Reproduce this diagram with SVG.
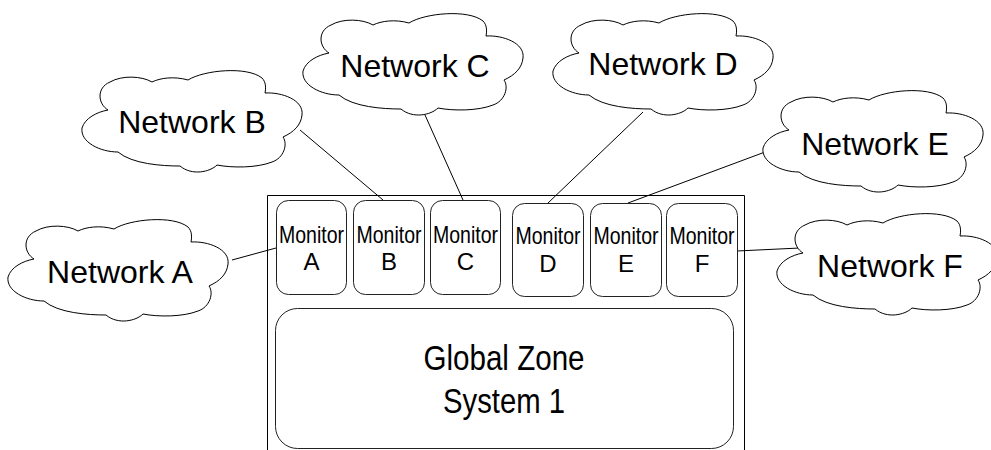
<svg xmlns="http://www.w3.org/2000/svg" width="991" height="450" viewBox="0 0 991 450">
<style>
.ln{stroke:#000;stroke-width:1;fill:none}
.box{stroke:#222;stroke-width:1;fill:#fff}
.cl{stroke:#000;stroke-width:1;fill:#fff}
.nt{font-family:"Liberation Sans",Arial,sans-serif;font-size:32px;text-anchor:middle;fill:#000}
.mt{font-family:"Liberation Sans",Arial,sans-serif;font-size:24px;text-anchor:middle;fill:#000}
.gt{font-family:"Liberation Sans",Arial,sans-serif;font-size:35px;text-anchor:middle;fill:#000}
</style>
<defs>
<path id="cloud" d="M0,58 C3,48 15,42 26,40 C16,34 14,18 28,12 C40,5 60,6 70,12 C78,8 92,6 106,10 C122,0 165,-4 180,8 C184,12 184,18 183,23 C200,22 222,30 220,45 C219,55 212,62 201,67 C206,74 202,88 190,92 C175,98 150,98 135,95 C128,102 110,106 98,96 C80,96 50,94 36,82 C18,82 -2,72 0,58 Z"/>
</defs>
<rect width="991" height="450" fill="#fff"/>
<g id="system">
<path class="ln" d="M267.5,450 V195.5 H744.5 V450"/>
</g>
<g id="connectors">
<line class="ln" x1="232" y1="260" x2="276" y2="248"/>
<line class="ln" x1="300" y1="130" x2="383" y2="200"/>
<line class="ln" x1="425" y1="115" x2="463" y2="200"/>
<line class="ln" x1="643" y1="112" x2="548" y2="203"/>
<line class="ln" x1="765" y1="152" x2="628" y2="203"/>
<line class="ln" x1="737" y1="251" x2="800" y2="248"/>
</g>
<g id="netA"><use href="#cloud" class="cl" transform="translate(8,219)"/><text class="nt" x="120" y="283">Network A</text></g>
<g id="netB"><use href="#cloud" class="cl" transform="translate(82,70)"/><text class="nt" x="192" y="133">Network B</text></g>
<g id="netC"><use href="#cloud" class="cl" transform="translate(303,13)"/><text class="nt" x="415" y="77">Network C</text></g>
<g id="netD"><use href="#cloud" class="cl" transform="translate(553,13)"/><text class="nt" x="663" y="75">Network D</text></g>
<g id="netE"><use href="#cloud" class="cl" transform="translate(763,90)"/><text class="nt" x="875" y="155">Network E</text></g>
<g id="netF"><use href="#cloud" class="cl" transform="translate(777,213)"/><text class="nt" x="890" y="277">Network F</text></g>
<g id="monA"><rect class="box" x="276.5" y="200.5" width="70" height="94" rx="12"/><text class="mt" x="311.5" y="243" textLength="65" lengthAdjust="spacingAndGlyphs">Monitor</text><text class="mt" x="311.5" y="270">A</text></g>
<g id="monB"><rect class="box" x="353.5" y="200.5" width="71" height="94" rx="12"/><text class="mt" x="389" y="243" textLength="65" lengthAdjust="spacingAndGlyphs">Monitor</text><text class="mt" x="389" y="270">B</text></g>
<g id="monC"><rect class="box" x="430.5" y="200.5" width="70" height="94" rx="12"/><text class="mt" x="465.5" y="243" textLength="65" lengthAdjust="spacingAndGlyphs">Monitor</text><text class="mt" x="465.5" y="270">C</text></g>
<g id="monD"><rect class="box" x="512.5" y="203.5" width="71" height="93" rx="12"/><text class="mt" x="548" y="244" textLength="65" lengthAdjust="spacingAndGlyphs">Monitor</text><text class="mt" x="548" y="272">D</text></g>
<g id="monE"><rect class="box" x="590.5" y="203.5" width="71" height="93" rx="12"/><text class="mt" x="626" y="244" textLength="65" lengthAdjust="spacingAndGlyphs">Monitor</text><text class="mt" x="626" y="272">E</text></g>
<g id="monF"><rect class="box" x="666.5" y="203.5" width="71" height="93" rx="12"/><text class="mt" x="702" y="244" textLength="65" lengthAdjust="spacingAndGlyphs">Monitor</text><text class="mt" x="702" y="272">F</text></g>
<g id="global"><rect class="box" x="275.5" y="308.5" width="458" height="140" rx="22"/><text class="gt" x="504" y="370" textLength="161" lengthAdjust="spacingAndGlyphs">Global Zone</text><text class="gt" x="504" y="413" textLength="122" lengthAdjust="spacingAndGlyphs">System 1</text></g>
</svg>
